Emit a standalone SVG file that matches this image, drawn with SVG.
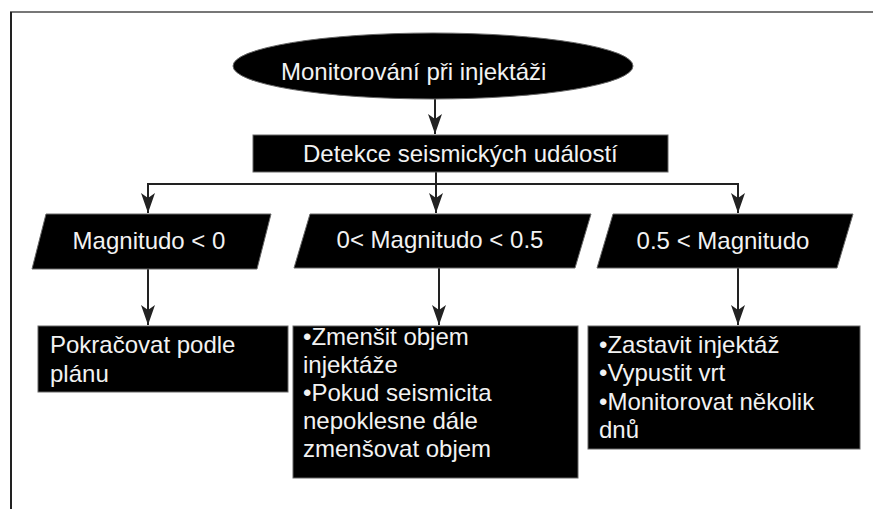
<svg xmlns="http://www.w3.org/2000/svg" width="873" height="509" viewBox="0 0 873 509">
<style>
.shape{fill:#000;stroke:#666;stroke-width:1}
.t{font-family:"Liberation Sans",Arial,sans-serif;font-size:24px;fill:#f2f2f2}
.c{text-anchor:middle}
.conn{fill:none;stroke:#222;stroke-width:2}
</style>
<defs>
<marker id="ah" markerUnits="userSpaceOnUse" markerWidth="22" markerHeight="16" viewBox="0 0 22 16" refX="21" refY="8" orient="auto-start-reverse">
<path d="M21,8 L1,1 L6,8 L1,15 Z" fill="#222"/>
</marker>
</defs>
<rect width="873" height="509" fill="#fff"/>
<g id="frame">
<line x1="10" y1="12" x2="873" y2="12" stroke="#777" stroke-width="2"/>
<line x1="11" y1="12" x2="11" y2="509" stroke="#222" stroke-width="2"/>
</g>
<g id="connectors">
<line class="conn" x1="435" y1="99" x2="435" y2="134" marker-end="url(#ah)"/>
<line class="conn" x1="436" y1="172" x2="436" y2="213" marker-end="url(#ah)"/>
<polyline class="conn" points="148,213 148,184 738,184 738,213" marker-start="url(#ah)" marker-end="url(#ah)"/>
<line class="conn" x1="148" y1="269" x2="148" y2="325" marker-end="url(#ah)"/>
<line class="conn" x1="439" y1="268" x2="439" y2="325" marker-end="url(#ah)"/>
<line class="conn" x1="738" y1="268" x2="738" y2="325" marker-end="url(#ah)"/>
</g>
<g id="start">
<ellipse class="shape" cx="433" cy="66" rx="200" ry="33"/>
<text class="t" x="281" y="80">Monitorování při injektáži</text>
</g>
<g id="detect">
<rect class="shape" x="253" y="135" width="415" height="37"/>
<text class="t" x="303" y="162">Detekce seismických událostí</text>
</g>
<g id="mag1">
<polygon class="shape" points="46,214 271,214 257,269 32,269"/>
<text class="t c" x="149" y="249">Magnitudo &lt; 0</text>
</g>
<g id="mag2">
<polygon class="shape" points="310,214 591,214 575,268 294,268"/>
<text class="t c" x="440" y="248">0&lt; Magnitudo &lt; 0.5</text>
</g>
<g id="mag3">
<polygon class="shape" points="613,214 853,214 837,268 597,268"/>
<text class="t c" x="723" y="249">0.5 &lt; Magnitudo</text>
</g>
<g id="act1">
<rect class="shape" x="38" y="326" width="250" height="66"/>
<text class="t" x="50" y="353">Pokračovat podle</text>
<text class="t" x="50" y="382">plánu</text>
</g>
<g id="act2">
<rect class="shape" x="293" y="326" width="285" height="152"/>
<text class="t" x="303" y="345">•Zmenšit objem</text>
<text class="t" x="303" y="373">injektáže</text>
<text class="t" x="303" y="401">•Pokud seismicita</text>
<text class="t" x="303" y="429">nepoklesne dále</text>
<text class="t" x="303" y="457">zmenšovat objem</text>
</g>
<g id="act3">
<rect class="shape" x="588" y="326" width="272" height="123"/>
<text class="t" x="599" y="353">•Zastavit injektáž</text>
<text class="t" x="599" y="381">•Vypustit vrt</text>
<text class="t" x="599" y="410">•Monitorovat několik</text>
<text class="t" x="599" y="438">dnů</text>
</g>
</svg>
